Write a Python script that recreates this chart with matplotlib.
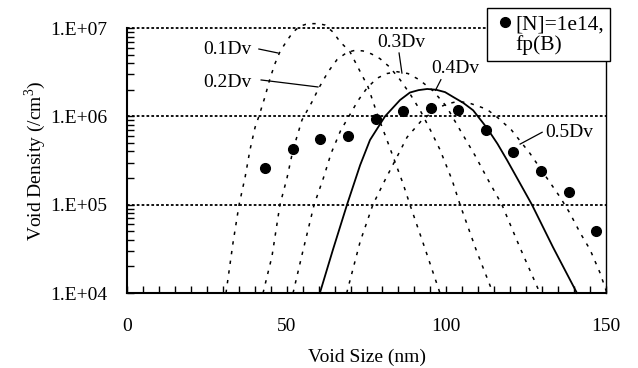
import numpy as np
import matplotlib
matplotlib.use("Agg")
import matplotlib.pyplot as plt
from matplotlib.lines import Line2D
from matplotlib.ticker import FixedLocator, FuncFormatter, LogLocator, NullFormatter

plt.rcParams['font.family'] = ['Liberation Serif', 'DejaVu Serif']
plt.rcParams['mathtext.fontset'] = 'custom'
plt.rcParams['mathtext.rm'] = 'Liberation Serif'
plt.rcParams['font.size'] = 14

# measured points (void size nm, density /cm3)
dot_x = [43.2, 52.0, 60.4, 69.2, 78.0, 86.4, 95.2, 103.7, 112.4, 120.9, 129.7, 138.5, 146.9]
dot_y = [2.6e5, 4.3e5, 5.5e5, 6.0e5, 9.3e5, 1.15e6, 1.24e6, 1.18e6, 7.0e5, 3.9e5, 2.4e5, 1.4e5, 5.0e4]

# calculated distributions
dv1_x = [31.0, 33.2, 35.1, 37.0, 38.5, 40.1, 41.3, 43.2, 44.8, 46.4, 47.9, 50.1, 52.0, 54.2, 56.0, 58.0,
         60.0, 62.0, 64.5, 66.7, 69.8, 72.3, 75.5, 78.6, 81.4, 84.0, 86.4, 88.6, 93.3, 98.0]
dv1_y = [1.0e4, 3.7e4, 1.0e5, 2.06e5, 4.15e5, 7.5e5, 1.0e6, 1.66e6, 2.7e6, 4.0e6, 5.4e6, 7.2e6, 9.0e6, 1.05e7, 1.1e7, 1.12e7,
         1.12e7, 1.08e7, 9.0e6, 7.0e6, 5.4e6, 3.6e6, 2.15e6, 1.0e6, 5.4e5, 3.0e5, 1.75e5, 1.0e5, 3.2e4, 1.0e4]

dv2_x = [42.6, 45.4, 47.9, 50.1, 52.0, 54.8, 57.9, 60.1, 63.0, 65.8, 68.9, 71.5, 73.9, 76.5, 79.2, 82.3, 85.5,
         88.6, 91.8, 95.0, 98.0, 101.8, 104.3, 109.3, 114.6]
dv2_y = [1.0e4, 2.6e4, 1.0e5, 2.0e5, 4.2e5, 9.1e5, 1.45e6, 2.1e6, 3.2e6, 4.4e6, 5.3e6, 5.6e6, 5.5e6, 5.1e6, 4.5e6, 3.6e6, 2.6e6,
         1.8e6, 1.17e6, 7.0e5, 4.2e5, 1.9e5, 1.0e5, 3.1e4, 1.0e4]

dv3_x = [52.0, 54.9, 58.6, 61.5, 63.9, 66.9, 69.5, 72.3, 75.2, 78.3, 81.4, 84.6, 88.0, 91.5, 95.8, 100.0,
         104.3, 109.0, 113.1, 117.4, 123.0, 129.3]
dv3_y = [1.0e4, 2.8e4, 1.0e5, 2.0e5, 3.8e5, 6.9e5, 1.0e6, 1.5e6, 2.1e6, 2.7e6, 3.05e6, 3.2e6, 3.05e6, 2.6e6, 1.95e6, 1.3e6,
         7.0e5, 3.6e5, 1.9e5, 1.0e5, 3.3e4, 1.0e4]

dv4_x = [60.4, 64.5, 68.9, 73.0, 76.1, 80.8, 85.5, 88.6, 91.3, 94.0, 96.8, 99.6, 102.1, 105.3, 108.4, 112.7,
         116.0, 119.0, 122.5, 126.8, 133.4, 140.9]
dv4_y = [1.0e4, 3.1e4, 1.0e5, 2.8e5, 5.4e5, 1.0e6, 1.53e6, 1.86e6, 1.98e6, 2.04e6, 2.0e6, 1.88e6, 1.66e6, 1.42e6, 1.17e6, 7.4e5,
         4.9e5, 3.2e5, 1.9e5, 1.0e5, 3.3e4, 1.0e4]

dv5_x = [68.8, 73.0, 77.0, 80.8, 84.6, 87.7, 92.4, 97.5, 100.2, 102.7, 105.2, 107.5, 109.6, 112.7, 115.9, 120.4,
         126.2, 131.5, 135.6, 138.7, 141.9, 145.0, 148.1, 150.3]
dv5_y = [1.0e4, 3.8e4, 1.0e5, 1.9e5, 3.5e5, 5.8e5, 9.1e5, 1.25e6, 1.38e6, 1.45e6, 1.45e6, 1.4e6, 1.32e6, 1.2e6, 9.8e5, 7.0e5,
         3.8e5, 2.0e5, 1.22e5, 8.0e4, 4.8e4, 3.1e4, 1.7e4, 1.0e4]

ytick_vals = [1e4, 1e5, 1e6, 1e7]
ytick_labels = ['1.E+04', '1.E+05', '1.E+06', '1.E+07']
xtick_vals = [0, 50, 100, 150]

fig = plt.figure(figsize=(6.38, 3.68), dpi=100)
ax = fig.add_axes([127 / 638, 1 - 293 / 368, (606 - 127) / 638, (293 - 28) / 368])

dash = (0, (2.2, 4.2))
for cx, cy in [(dv1_x, dv1_y), (dv2_x, dv2_y), (dv3_x, dv3_y), (dv5_x, dv5_y)]:
    ax.plot(cx, cy, color='black', lw=1.1, linestyle=dash, clip_on=False)
ax.plot(dv4_x, dv4_y, color='black', lw=1.3, clip_on=False)
ax.plot(dot_x, dot_y, 'o', color='black', ms=7, linestyle='none')

ax.set_yscale('log')
ax.set_xlim(0, 150)
ax.set_ylim(1e4, 1e7)

for v in [1e5, 1e6, 1e7]:
    ax.axhline(v, color='black', lw=1.3, linestyle=(0, (1.5, 1.2)), zorder=1, clip_on=False)

ax.spines['top'].set_visible(False)
ax.spines['left'].set_linewidth(1.5)
ax.spines['bottom'].set_linewidth(1.5)
ax.spines['right'].set_linewidth(1.0)

ax.xaxis.set_major_locator(FixedLocator(xtick_vals))
ax.xaxis.set_minor_locator(FixedLocator(np.arange(0, 151, 5)))
ax.yaxis.set_major_locator(FixedLocator(ytick_vals))
ax.yaxis.set_major_formatter(FuncFormatter(lambda v, p: ytick_labels[ytick_vals.index(v)] if v in ytick_vals else ''))
ax.yaxis.set_minor_locator(LogLocator(base=10, subs=np.arange(2, 10)))
ax.yaxis.set_minor_formatter(NullFormatter())
ax.tick_params(which='both', direction='in', length=5, width=1, top=False, right=False)
ax.tick_params(axis='x', which='major', pad=18)
ax.tick_params(axis='y', which='major', pad=14)

ax.set_xlabel('Void Size (nm)', labelpad=10)
ax.set_ylabel(r'Void Density (/cm$^{\mathrm{3}}$)', labelpad=2)

# curve labels with leader lines
labels = [('0.1Dv', 23.8, 5.64e6, (41.3, 47.3), (5.78e6, 5.21e6)),
          ('0.2Dv', 23.8, 2.44e6, (42.0, 59.8), (2.58e6, 2.15e6)),
          ('0.3Dv', 78.3, 6.77e6, (85.2, 86.1), (5.21e6, 3.09e6)),
          ('0.4Dv', 95.2, 3.52e6, (98.3, 96.6), (2.6e6, 1.97e6)),
          ('0.5Dv', 131.0, 6.6e5, (130.0, 123.1), (6.6e5, 4.85e5))]
for txt, tx, ty, lx, ly in labels:
    ax.text(tx, ty, txt, ha='left', va='center')
    ax.plot(lx, ly, color='black', lw=0.9)

# legend: marker beside the first line only
handles = [Line2D([], [], marker='o', color='black', ms=7, linestyle='none'),
           Line2D([], [], linestyle='none')]
leg = ax.legend(handles, ['[N]=1e14,', 'fp(B)'], loc='upper left',
                bbox_to_anchor=(487 / 638, 1 - 8 / 368), bbox_transform=fig.transFigure,
                handlelength=1.1, handletextpad=-0.1, borderaxespad=0, borderpad=0.3,
                fancybox=False, framealpha=1, edgecolor='black', labelspacing=0, fontsize=15.5)
leg.get_frame().set_linewidth(1.0)

fig.savefig('out.png', dpi=100)
